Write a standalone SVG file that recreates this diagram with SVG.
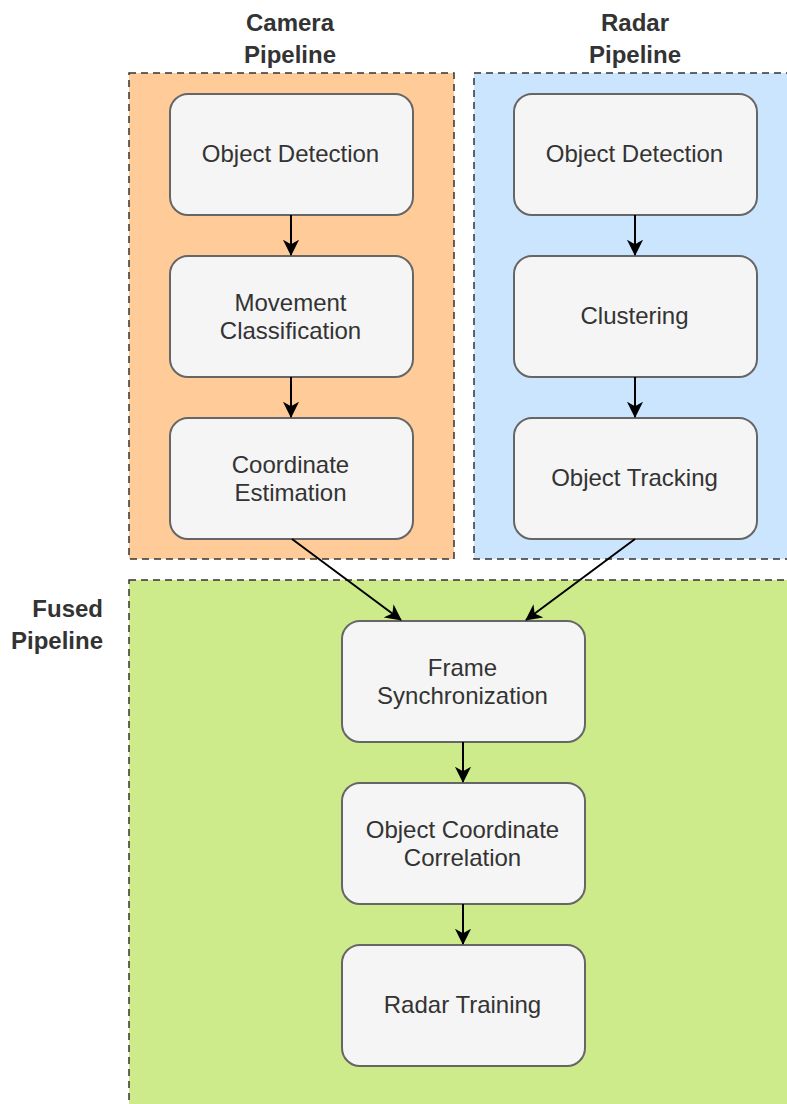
<svg xmlns="http://www.w3.org/2000/svg" width="787" height="1104" viewBox="0 0 787 1104">
<style>
.cont{stroke:#333;stroke-width:1.5;stroke-dasharray:7 5}
.node{fill:#f5f5f5;stroke:#666;stroke-width:2}
.t{font-family:"Liberation Sans",Arial,sans-serif;font-size:24px;fill:#333;text-anchor:middle}
.h{font-family:"Liberation Sans",Arial,sans-serif;font-size:24px;font-weight:bold;fill:#333}
.e{stroke:#000;stroke-width:2;fill:none}
</style>
<defs>
<marker id="ah" viewBox="0 0 20 20" refX="17" refY="10" markerWidth="18" markerHeight="18" markerUnits="userSpaceOnUse" orient="auto">
<path d="M0,1 L18,10 L0,19 L5,10 Z" fill="#000"/>
</marker>
</defs>
<rect width="787" height="1104" fill="#fff"/>
<g id="camera-pipeline">
<rect class="cont" x="129" y="73" width="325" height="486" fill="#ffcc99"/>
<text class="h" x="290" y="31" text-anchor="middle">Camera</text>
<text class="h" x="290" y="63" text-anchor="middle">Pipeline</text>
</g>
<g id="radar-pipeline">
<rect class="cont" x="474" y="73" width="330" height="486" fill="#cce5ff"/>
<text class="h" x="635" y="31" text-anchor="middle">Radar</text>
<text class="h" x="635" y="63" text-anchor="middle">Pipeline</text>
</g>
<g id="fused-pipeline">
<rect class="cont" x="129" y="580" width="680" height="540" fill="#cdeb8b"/>
<text class="h" x="103" y="617" text-anchor="end">Fused</text>
<text class="h" x="103" y="649" text-anchor="end">Pipeline</text>
</g>
<g id="cam-object-detection">
<rect class="node" x="170" y="94" width="243" height="121" rx="18"/>
<text class="t" x="290.5" y="162">Object Detection</text>
</g>
<g id="cam-movement-classification">
<rect class="node" x="170" y="256" width="243" height="121" rx="18"/>
<text class="t" x="290.5" y="310.5">Movement</text>
<text class="t" x="290.5" y="338.5">Classification</text>
</g>
<g id="cam-coordinate-estimation">
<rect class="node" x="170" y="418" width="243" height="121" rx="18"/>
<text class="t" x="290.5" y="472.5">Coordinate</text>
<text class="t" x="290.5" y="500.5">Estimation</text>
</g>
<g id="radar-object-detection">
<rect class="node" x="514" y="94" width="243" height="121" rx="18"/>
<text class="t" x="634.5" y="162">Object Detection</text>
</g>
<g id="radar-clustering">
<rect class="node" x="514" y="256" width="243" height="121" rx="18"/>
<text class="t" x="634.5" y="324">Clustering</text>
</g>
<g id="radar-object-tracking">
<rect class="node" x="514" y="418" width="243" height="121" rx="18"/>
<text class="t" x="634.5" y="486">Object Tracking</text>
</g>
<g id="frame-synchronization">
<rect class="node" x="342" y="621" width="243" height="121" rx="18"/>
<text class="t" x="462.5" y="675.5">Frame</text>
<text class="t" x="462.5" y="703.5">Synchronization</text>
</g>
<g id="object-coordinate-correlation">
<rect class="node" x="342" y="783" width="243" height="121" rx="18"/>
<text class="t" x="462.5" y="837.5">Object Coordinate</text>
<text class="t" x="462.5" y="865.5">Correlation</text>
</g>
<g id="radar-training">
<rect class="node" x="342" y="945" width="243" height="121" rx="18"/>
<text class="t" x="462.5" y="1013">Radar Training</text>
</g>
<g id="connectors">
<line class="e" x1="291" y1="215" x2="291" y2="255" marker-end="url(#ah)"/>
<line class="e" x1="291" y1="377" x2="291" y2="417" marker-end="url(#ah)"/>
<line class="e" x1="635" y1="215" x2="635" y2="255" marker-end="url(#ah)"/>
<line class="e" x1="635" y1="377" x2="635" y2="417" marker-end="url(#ah)"/>
<line class="e" x1="292" y1="539" x2="401" y2="620" marker-end="url(#ah)"/>
<line class="e" x1="635" y1="539" x2="526" y2="620" marker-end="url(#ah)"/>
<line class="e" x1="463" y1="742" x2="463" y2="782" marker-end="url(#ah)"/>
<line class="e" x1="463" y1="904" x2="463" y2="944" marker-end="url(#ah)"/>
</g>
</svg>
